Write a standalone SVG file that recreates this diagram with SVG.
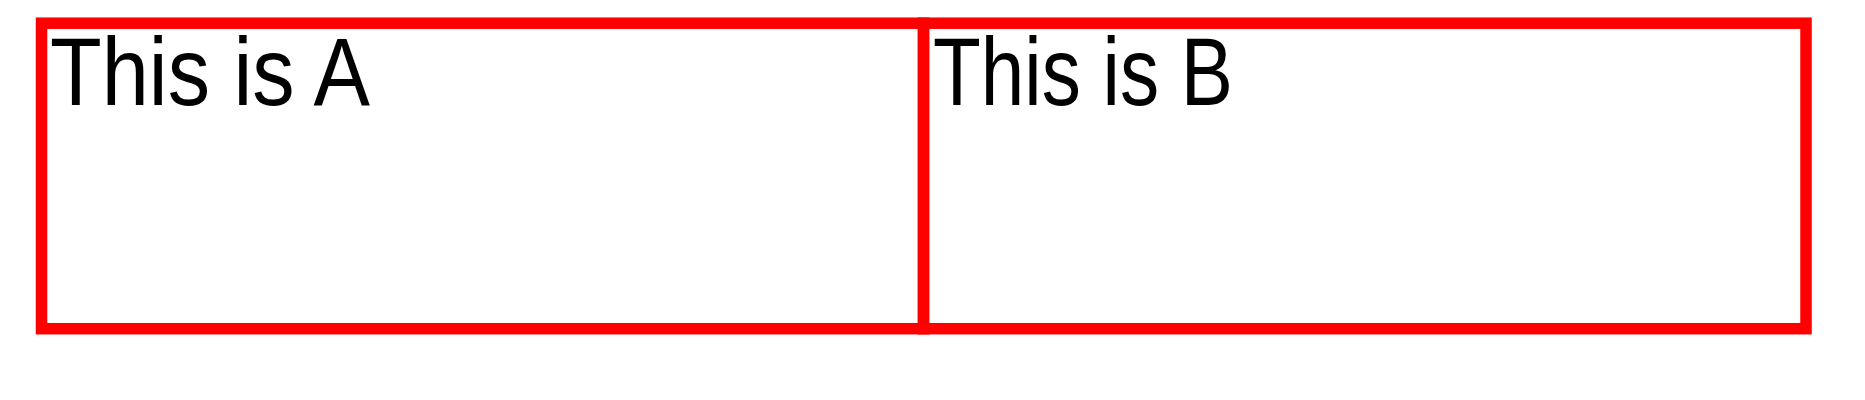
<svg xmlns="http://www.w3.org/2000/svg" width="1865" height="400" viewBox="0 0 1865 400">
<style>
.box{fill:none;stroke:#ff0000;stroke-width:11.5}
.lbl{font-family:"Liberation Sans",Arial,sans-serif;font-size:96px;fill:#000}
</style>
<rect width="1865" height="400" fill="#fff"/>
<g id="nodeA">
<rect class="box" x="41.5" y="23.2" width="882" height="305.5"/>
<text class="lbl" x="50" y="105" textLength="320" lengthAdjust="spacingAndGlyphs">This is A</text>
</g>
<g id="nodeB">
<rect class="box" x="923.5" y="23.2" width="882.5" height="305.5"/>
<text class="lbl" x="933" y="105" textLength="300" lengthAdjust="spacingAndGlyphs">This is B</text>
</g>
<g id="connectors"></g>
</svg>
